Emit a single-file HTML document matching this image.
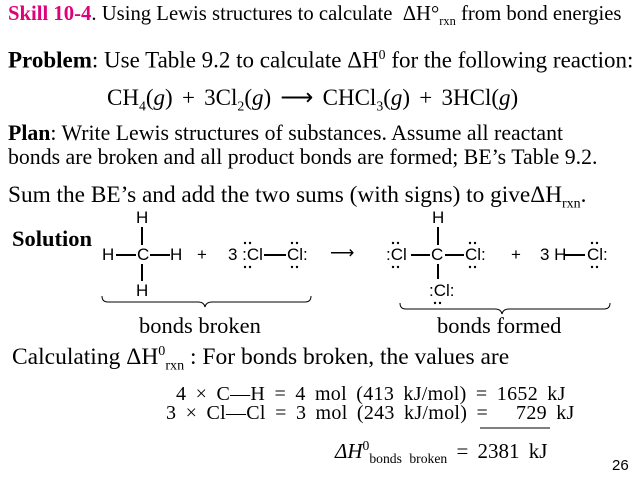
<!DOCTYPE html><html><head><style>
body{margin:0;width:640px;height:481px;background:#fff;position:relative;overflow:hidden;font-family:"Liberation Serif",serif;color:#000}
div{position:absolute;white-space:nowrap}
.s{font-family:"Liberation Sans",sans-serif;font-size:17px;line-height:17px}
.r{font-size:23px}
sub{font-size:60%}
.b{height:1.5px;background:#000}
.v{width:1.5px;background:#000}
</style></head><body>
<div style="left:8px;top:3px;font-size:20.7px"><b style="color:#e0007a">Skill 10-4</b>. Using Lewis structures to calculate &nbsp;ΔH°<sub>rxn</sub> from bond energies</div>
<div class="r" style="left:8px;top:47px"><b>Problem</b>: Use Table 9.2 to calculate ΔH<sup style="font-size:60%">0</sup> for the following reaction:</div>
<div style="left:107px;top:85px;font-size:23px;word-spacing:3.5px">CH<sub>4</sub>(<i>g</i>) + 3Cl<sub>2</sub>(<i>g</i>) ⟶ CHCl<sub>3</sub>(<i>g</i>) + 3HCl(<i>g</i>)</div>
<div style="left:8px;top:121px;line-height:24px;font-size:21.8px"><b>Plan</b>: Write Lewis structures of substances. Assume all reactant<br>bonds are broken and all product bonds are formed; BE’s Table 9.2.</div>
<div style="left:8px;top:182px;font-size:23.3px">Sum the BE’s and add the two sums (with signs) to giveΔH<sub>rxn</sub>.</div>
<div style="left:12px;top:226px;font-size:22.5px"><b>Solution</b></div>
<div class="s" style="left:136px;top:209px">H</div>
<div class="v" style="left:141px;top:227px;height:18px"></div>
<div class="s" style="left:102px;top:246px">H</div>
<div class="b" style="left:116px;top:254px;width:20px"></div>
<div class="s" style="left:137px;top:246px">C</div>
<div class="b" style="left:150px;top:254px;width:20px"></div>
<div class="s" style="left:170px;top:246px">H</div>
<div class="v" style="left:141px;top:264px;height:17px"></div>
<div class="s" style="left:136px;top:282px">H</div>
<div class="s" style="left:197px;top:246px">+</div>
<div class="s" style="left:228px;top:246px">3 :Cl</div>
<div class="b" style="left:264px;top:254px;width:22px"></div>
<div class="s" style="left:287px;top:246px">Cl:</div>
<div class="s" style="left:330px;top:244px">⟶</div>
<div class="s" style="left:432px;top:209px">H</div>
<div class="v" style="left:437px;top:227px;height:18px"></div>
<div class="s" style="left:386px;top:246px">:Cl</div>
<div class="b" style="left:411px;top:254px;width:19px"></div>
<div class="s" style="left:431px;top:246px">C</div>
<div class="b" style="left:445px;top:254px;width:19px"></div>
<div class="s" style="left:465px;top:246px">Cl:</div>
<div class="v" style="left:437px;top:264px;height:15px"></div>
<div class="s" style="left:429px;top:282px">:Cl:</div>
<div class="s" style="left:511px;top:246px">+</div>
<div class="s" style="left:540px;top:246px">3 H</div>
<div class="b" style="left:565px;top:254px;width:20px"></div>
<div class="s" style="left:587px;top:246px">Cl:</div>
<svg style="position:absolute;left:0;top:0" width="640" height="481"><g fill="#000">
<circle cx="245" cy="243" r="1.2"/><circle cx="250" cy="243" r="1.2"/><circle cx="245" cy="267" r="1.2"/><circle cx="250" cy="267" r="1.2"/>
<circle cx="292" cy="243" r="1.2"/><circle cx="297" cy="243" r="1.2"/><circle cx="292" cy="267" r="1.2"/><circle cx="297" cy="267" r="1.2"/>
<circle cx="393" cy="267" r="1.2"/><circle cx="398" cy="267" r="1.2"/><circle cx="393" cy="243" r="1.2"/><circle cx="398" cy="243" r="1.2"/>
<circle cx="470" cy="243" r="1.2"/><circle cx="475" cy="243" r="1.2"/><circle cx="470" cy="267" r="1.2"/><circle cx="475" cy="267" r="1.2"/>
<circle cx="435" cy="303" r="1.2"/><circle cx="440" cy="303" r="1.2"/>
<circle cx="592" cy="243" r="1.2"/><circle cx="597" cy="243" r="1.2"/><circle cx="592" cy="267" r="1.2"/><circle cx="597" cy="267" r="1.2"/>
</g><path d="M102 296 q0 6 6 6 H198 q6 0 7 5 q1-5 7-5 H305 q6 0 6-6" fill="none" stroke="#000"/><path d="M400 303 q0 6 6 6 H495 q6 0 7 5 q1-5 7-5 H604 q6 0 6-6" fill="none" stroke="#000"/><line x1="480" y1="428" x2="550" y2="428" stroke="#000"/></svg>
<div style="left:139px;top:313px;font-size:22.5px">bonds broken</div>
<div style="left:437px;top:313px;font-size:22.5px">bonds formed</div>
<div style="left:12px;top:343px;font-size:23.5px">Calculating ΔH<sup style="font-size:60%">0</sup><sub>rxn</sub> : For bonds broken, the values are</div>
<div style="left:176px;top:383px;font-size:20px;word-spacing:4px;letter-spacing:0.3px">4 × C—H = 4 mol (413 kJ/mol) = 1652 kJ</div>
<div style="left:166px;top:402px;font-size:20px;word-spacing:4px;letter-spacing:0.3px">3 × Cl—Cl = 3 mol (243 kJ/mol) = &nbsp;&nbsp;729 kJ</div>
<div style="left:335px;top:438px;font-size:21px;word-spacing:4px"><i>ΔH</i><sup style="font-size:65%">0</sup><sub style="font-size:65%">bonds broken</sub> = 2381 kJ</div>
<div class="s" style="left:612px;top:457px;font-size:15px">26</div>
</body></html>
